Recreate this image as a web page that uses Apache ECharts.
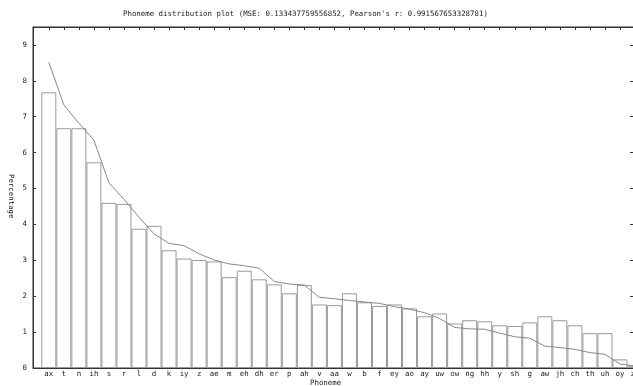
<!DOCTYPE html>
<html>
<head>
<meta charset="utf-8">
<script src="https://cdn.jsdelivr.net/npm/echarts@6/dist/echarts.min.js"></script>
<style>html,body{margin:0;padding:0;background:#fff;overflow:hidden;width:633px;height:386px;}#c{width:643px;height:386px;}</style>
</head>
<body>
<div id="c"></div>
<script>
const categories = ['ax','t','n','ih','s','r','l','d','k','iy','z','ae','m','eh','dh','er','p','ah','v','aa','w','b','f','ey','ao','ay','uw','ow','ng','hh','y','sh','g','aw','jh','ch','th','uh','oy','zh'];
const observed = [7.68,6.68,6.68,5.73,4.60,4.57,3.88,3.96,3.28,3.05,3.01,2.97,2.53,2.71,2.47,2.33,2.08,2.31,1.77,1.75,2.08,1.83,1.73,1.77,1.66,1.44,1.52,1.24,1.33,1.30,1.19,1.17,1.27,1.44,1.33,1.19,0.97,0.97,0.24,0.06];
const expected = [8.52,7.33,6.82,6.35,5.16,4.70,4.20,3.74,3.47,3.41,3.18,3.01,2.90,2.85,2.78,2.41,2.34,2.31,1.97,1.93,1.88,1.84,1.80,1.71,1.64,1.54,1.38,1.13,1.09,1.08,0.97,0.87,0.83,0.61,0.57,0.52,0.43,0.38,0.11,0.06];
const yTicks = [0,1,2,3,4,5,6,7,8,9];
const titleText = "Phoneme distribution plot (MSE: 0.133437759556852, Pearson's r: 0.991567653328781)";

const FONT = 'DejaVu Sans Mono';
const FS = 7.4;
const idx = categories.map((c, i) => i);
const chart = echarts.init(document.getElementById('c'), null, {renderer: 'canvas', width: 643, height: 386});
const xCommon = {
  type: 'value', min: -1.051, max: 39.53,
  axisLine: {show: true, onZero: false, lineStyle: {color: '#333', width: 1}},
  splitLine: {show: false}
};
const yCommon = {
  type: 'value', min: 0, max: 9.5,
  axisLine: {show: true, onZero: false, lineStyle: {color: '#333', width: 1}},
  splitLine: {show: false}
};
chart.setOption({
  animation: false,
  backgroundColor: '#fff',
  grid: {left: 33, right: 0, top: 27, bottom: 18, show: true, borderColor: '#333', borderWidth: 1, backgroundColor: 'transparent'},
  xAxis: [
    Object.assign({}, xCommon, {
      position: 'bottom',
      axisTick: {show: true, inside: true, length: 3, customValues: idx, lineStyle: {color: '#333'}},
      axisLabel: {show: true, customValues: idx, margin: 3, fontFamily: FONT, fontSize: FS, color: '#222',
        formatter: v => categories[Math.round(v)] || ''}
    }),
    Object.assign({}, xCommon, {
      position: 'top',
      axisTick: {show: true, inside: true, length: 3, customValues: idx, lineStyle: {color: '#333'}},
      axisLabel: {show: false}
    })
  ],
  yAxis: [
    Object.assign({}, yCommon, {
      position: 'left',
      axisTick: {show: true, inside: true, length: 3, customValues: yTicks, lineStyle: {color: '#333'}},
      axisLabel: {show: true, customValues: yTicks, margin: 6, fontFamily: FONT, fontSize: FS, color: '#222'}
    }),
    Object.assign({}, yCommon, {
      position: 'right', offset: -10,
      axisLine: {show: false, onZero: false},
      axisTick: {show: true, inside: true, length: 3, customValues: yTicks, lineStyle: {color: '#333'}},
      axisLabel: {show: false}
    })
  ],
  graphic: [
    {type: 'text', left: 123, top: 11, style: {text: titleText, font: FS + 'px "DejaVu Sans Mono"', fill: '#222'}},
    {type: 'text', left: 7, top: 174, rotation: -Math.PI / 2, originX: 0, originY: 0, style: {text: 'Percentage', font: FS + 'px "DejaVu Sans Mono"', fill: '#222'}},
    {type: 'text', left: 310, top: 380, style: {text: 'Phoneme', font: FS + 'px "DejaVu Sans Mono"', fill: '#222'}}
  ],
  series: [
    {
      type: 'bar', xAxisIndex: 0, yAxisIndex: 0, barWidth: 15,
      data: observed.map((v, i) => [i, v]),
      itemStyle: {color: '#fff', borderColor: '#999', borderWidth: 1},
      silent: true
    },
    {
      type: 'line', xAxisIndex: 0, yAxisIndex: 0,
      data: expected.map((v, i) => [i, v]),
      showSymbol: false, symbol: 'none',
      lineStyle: {color: '#888', width: 1},
      silent: true
    }
  ]
});
</script>
</body>
</html>
